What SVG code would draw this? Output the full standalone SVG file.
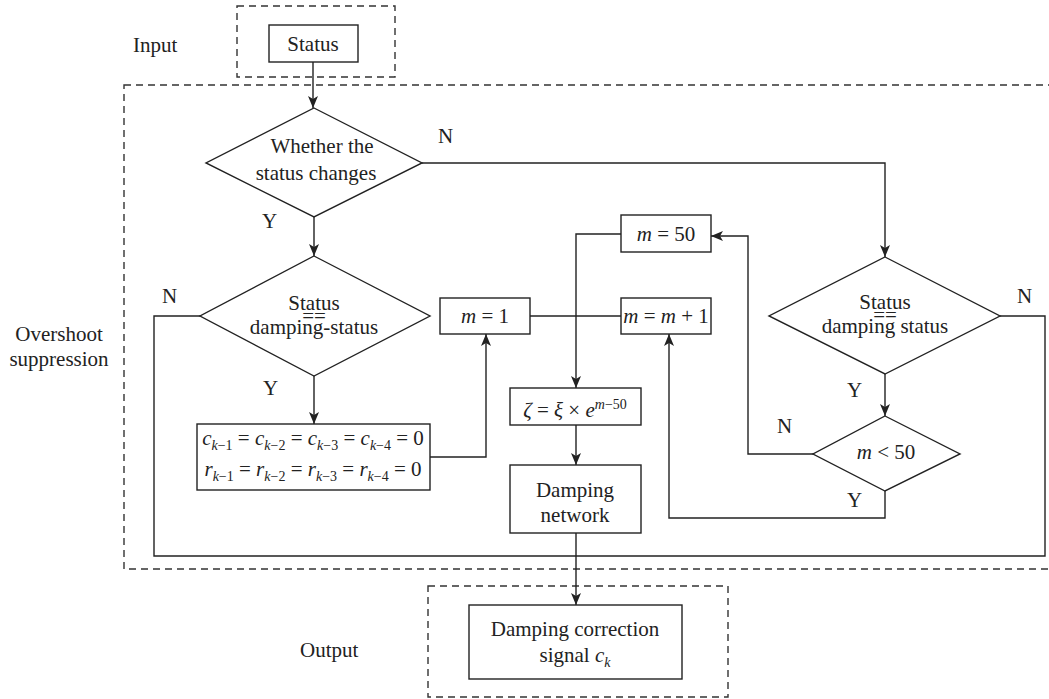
<svg xmlns="http://www.w3.org/2000/svg" width="1049" height="699" viewBox="0 0 1049 699">
<defs>
<style>
text{font-family:"Liberation Serif","Times New Roman",serif;font-size:21px;fill:#222}
.c{text-anchor:middle}
.i{font-style:italic}
.s{font-size:14px}
.box{fill:none;stroke:#222;stroke-width:1.4}
.dash{fill:none;stroke:#333;stroke-width:1.4;stroke-dasharray:7 5}
.ln{fill:none;stroke:#222;stroke-width:1.4}
.ar{marker-end:url(#ah)}
</style>
<marker id="ah" viewBox="0 0 12 10" refX="12" refY="5" markerWidth="12" markerHeight="10" markerUnits="userSpaceOnUse" orient="auto">
<path d="M0,0 L12,5 L0,10 L3,5 z" fill="#222"/>
</marker>
</defs>
<rect width="1049" height="699" fill="#fff"/>

<g id="regions">
<rect class="dash" x="237" y="6" width="158" height="71"/>
<rect class="dash" x="124" y="85" width="940" height="484"/>
<rect class="dash" x="428" y="586" width="300" height="111"/>
<text x="133" y="52">Input</text>
<text class="c" x="59" y="341">Overshoot</text>
<text class="c" x="59" y="366">suppression</text>
<text x="300" y="657">Output</text>
</g>

<g id="connectors">
<path class="ln ar" d="M313,62 V108"/>
<path class="ln ar" d="M422,163 H885 V257"/>
<path class="ln ar" d="M314,217 V256"/>
<path class="ln" d="M200,316 H154 V556 H1045 V316 H1000"/>
<path class="ln ar" d="M314,376 V424"/>
<path class="ln ar" d="M430,457 H486 V334"/>
<path class="ln" d="M530,316 H621"/>
<path class="ln ar" d="M621,234 H576 V388"/>
<path class="ln ar" d="M576,425 V465"/>
<path class="ln ar" d="M576,533 V605"/>
<path class="ln ar" d="M885,374 V416"/>
<path class="ln ar" d="M813,454 H748 V236 H711"/>
<path class="ln ar" d="M885,491 V518 H669 V334"/>
<text x="438" y="143">N</text>
<text x="262" y="228">Y</text>
<text x="162" y="303">N</text>
<text x="263" y="395">Y</text>
<text x="1017" y="303">N</text>
<text x="847" y="397">Y</text>
<text x="777" y="433">N</text>
<text x="847" y="507">Y</text>
</g>

<g id="status">
<rect class="box" x="269" y="25" width="89" height="37"/>
<text class="c" x="313" y="51">Status</text>
</g>

<g id="whether">
<polygon class="box" points="314,108 422,163 314,217 206,163"/>
<text class="c" x="322" y="153">Whether the</text>
<text class="c" x="316" y="180">status changes</text>
</g>

<g id="cmp-left">
<polygon class="box" points="314,256 430,316 314,376 200,316"/>
<text class="c" x="314" y="310">Status</text>
<text class="c" x="314" y="323">==</text>
<text class="c" x="314" y="334">damping-status</text>
</g>

<g id="reset">
<rect class="box" x="197" y="424" width="233" height="66"/>
<text class="c" x="313" y="445"><tspan class="i">c</tspan><tspan class="s" dy="5"><tspan class="i">k</tspan>−1</tspan><tspan dy="-5"> = </tspan><tspan class="i">c</tspan><tspan class="s" dy="5"><tspan class="i">k</tspan>−2</tspan><tspan dy="-5"> = </tspan><tspan class="i">c</tspan><tspan class="s" dy="5"><tspan class="i">k</tspan>−3</tspan><tspan dy="-5"> = </tspan><tspan class="i">c</tspan><tspan class="s" dy="5"><tspan class="i">k</tspan>−4</tspan><tspan dy="-5"> = 0</tspan></text>
<text class="c" x="313" y="476"><tspan class="i">r</tspan><tspan class="s" dy="5"><tspan class="i">k</tspan>−1</tspan><tspan dy="-5"> = </tspan><tspan class="i">r</tspan><tspan class="s" dy="5"><tspan class="i">k</tspan>−2</tspan><tspan dy="-5"> = </tspan><tspan class="i">r</tspan><tspan class="s" dy="5"><tspan class="i">k</tspan>−3</tspan><tspan dy="-5"> = </tspan><tspan class="i">r</tspan><tspan class="s" dy="5"><tspan class="i">k</tspan>−4</tspan><tspan dy="-5"> = 0</tspan></text>
</g>

<g id="m1">
<rect class="box" x="440" y="298" width="90" height="36"/>
<text class="c" x="485" y="323"><tspan class="i">m</tspan> = 1</text>
</g>

<g id="minc">
<rect class="box" x="621" y="298" width="90" height="36"/>
<text class="c" x="666" y="323"><tspan class="i">m</tspan> = <tspan class="i">m</tspan> + 1</text>
</g>

<g id="m50">
<rect class="box" x="621" y="215" width="90" height="37"/>
<text class="c" x="666" y="241"><tspan class="i">m</tspan> = 50</text>
</g>

<g id="zeta">
<rect class="box" x="510" y="388" width="131" height="37"/>
<text class="c" x="575" y="417"><tspan class="i">ζ</tspan> = <tspan class="i">ξ</tspan> × <tspan class="i">e</tspan><tspan class="s" dy="-8"><tspan class="i">m</tspan>−50</tspan></text>
</g>

<g id="network">
<rect class="box" x="510" y="465" width="131" height="68"/>
<text class="c" x="575" y="497">Damping</text>
<text class="c" x="575" y="522">network</text>
</g>

<g id="cmp-right">
<polygon class="box" points="885,257 1000,316 885,374 769,316"/>
<text class="c" x="885" y="309">Status</text>
<text class="c" x="885" y="322">==</text>
<text class="c" x="885" y="333">damping status</text>
</g>

<g id="mlt50">
<polygon class="box" points="885,416 960,454 885,491 813,454"/>
<text class="c" x="886" y="459"><tspan class="i">m</tspan> &lt; 50</text>
</g>

<g id="output">
<rect class="box" x="469" y="605" width="213" height="74"/>
<text class="c" x="575" y="636">Damping correction</text>
<text class="c" x="575" y="662">signal <tspan class="i">c</tspan><tspan class="s" dy="5" font-style="italic">k</tspan></text>
</g>
</svg>
